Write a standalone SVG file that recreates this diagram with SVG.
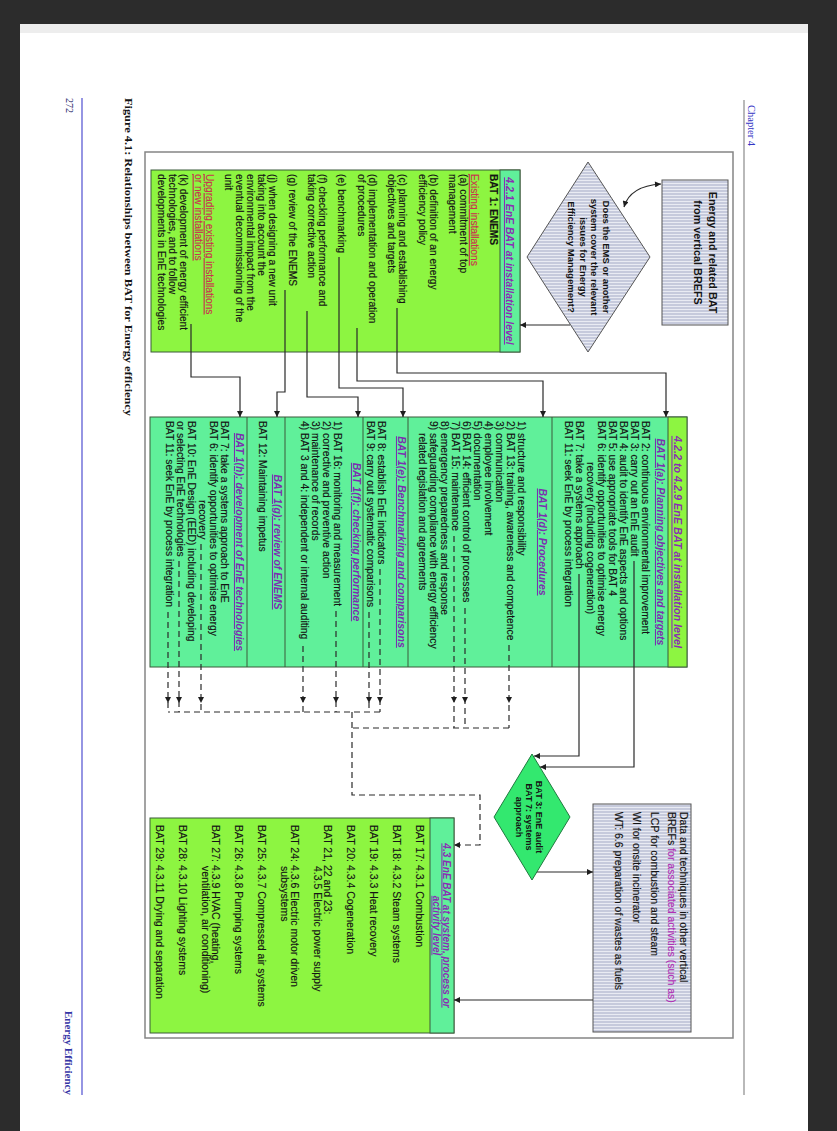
<svg xmlns="http://www.w3.org/2000/svg" width="837" height="1131" viewBox="0 0 837 1131">
<style>
text{font-family:"Liberation Sans",Arial,sans-serif;fill:#141414}
.l{font-size:10.2px;stroke:#141414;stroke-width:0.15}
.b{font-size:10.3px;stroke:#141414;stroke-width:0.15}
.pb{font-size:10.5px;stroke:#141414;stroke-width:0.15}
.hd{font-weight:bold;font-style:italic;fill:#8a2db5;stroke:none;text-decoration:underline}
.st{font-size:10.5px;font-weight:bold;font-style:italic;fill:#7b2fb0;stroke:none;text-decoration:underline}
.red{fill:#c8344e;stroke:#c8344e;text-decoration:underline}
.bx{stroke:#3b5b3b;stroke-width:1}
.lime{fill:#8df541}
.mint{fill:#60f09a}
.div{stroke:#3b5b3b;stroke-width:1;fill:none}
.c{fill:none;stroke:#2a2a2a;stroke-width:1.2}
.d{fill:none;stroke:#2a2a2a;stroke-width:1.2;stroke-dasharray:6 4}
.ft{font-family:"Liberation Serif","Times New Roman",serif}
</style>
<defs>
<pattern id="gs" patternUnits="userSpaceOnUse" width="3" height="6"><rect width="3" height="6" fill="#c6cadc"/><rect width="1" height="6" fill="#e9ebf3"/></pattern>
<marker id="ar" viewBox="0 0 10 10" refX="10" refY="5" markerWidth="7" markerHeight="6" markerUnits="userSpaceOnUse" orient="auto"><path d="M0,0 L10,5 L0,10 z" fill="#1e1e1e"/></marker>
<marker id="as" viewBox="0 0 10 10" refX="10" refY="5" markerWidth="7" markerHeight="6" markerUnits="userSpaceOnUse" orient="auto-start-reverse"><path d="M0,0 L10,5 L0,10 z" fill="#1e1e1e"/></marker>
</defs>
<rect x="0" y="0" width="837" height="1131" fill="#2c2c2c"/>
<rect x="20" y="24" width="788" height="1107" fill="#ffffff"/>
<rect x="20" y="24" width="788" height="9" fill="#ededed"/>

<g transform="matrix(0,1,-1,0,837,0)">
  <g id="page">
    <line x1="100" y1="93" x2="1095" y2="93" stroke="#8a8a8a" stroke-width="1.2"/>
    <text class="ft" x="105" y="89" font-size="10.5" style="fill:#3434c4">Chapter 4</text>
    <line x1="98" y1="755" x2="1095" y2="755" stroke="#4f4fd0" stroke-width="1.2"/>
    <text class="ft" x="98" y="771" font-size="10" style="fill:#2a2a6a">272</text>
    <text class="ft" x="1095" y="772" font-size="11" font-weight="bold" text-anchor="end" style="fill:#3535a5">Energy Efficiency</text>
    <text class="ft" x="98" y="712" font-size="10.5" font-weight="bold" textLength="318" lengthAdjust="spacingAndGlyphs">Figure 4.1: Relationships between BAT for Energy efficiency</text>
    <rect x="152" y="104" width="886" height="588" fill="none" stroke="#858585" stroke-width="1.5"/>
  </g>

  <g id="brefs">
    <rect x="180" y="109" width="145" height="66" fill="url(#gs)" stroke="#555" stroke-width="1"/>
    <text x="252.5" y="128" font-size="10.8" font-weight="bold" text-anchor="middle">Energy and related BAT</text>
    <text x="252.5" y="143" font-size="10.8" font-weight="bold" text-anchor="middle">from vertical BREFS</text>
  </g>

  <g id="ems-question">
    <polygon points="162,249 257,187 352,249 257,310" fill="url(#gs)" stroke="#555" stroke-width="1"/>
    <text x="257" y="234.5" font-size="9.5" font-weight="bold" text-anchor="middle">Does the EMS or another</text>
    <text x="257" y="246" font-size="9.5" font-weight="bold" text-anchor="middle">system cover the relevant</text>
    <text x="257" y="257.5" font-size="9.5" font-weight="bold" text-anchor="middle">issues for Energy</text>
    <text x="257" y="269" font-size="9.5" font-weight="bold" text-anchor="middle">Efficiency Management?</text>
  </g>

  <g id="enems">
    <rect x="170" y="317" width="182" height="369" class="lime bx"/>
    <rect x="170" y="317" width="182" height="20" class="mint bx"/>
    <text class="hd" x="261" y="331" font-size="10.5" text-anchor="middle">4.2.1 EnE BAT at installation level</text>
    <g class="l">
      <text x="174" y="346.7" font-weight="bold">BAT 1: ENEMS</text>
      <text class="red" x="174" y="366.1">Existing installations</text>
      <text x="174" y="377.1">(a) commitment of top</text>
      <text x="174" y="388.1">management</text>
      <text x="174" y="407.5">(b) definition of an energy</text>
      <text x="174" y="418.5">efficiency policy</text>
      <text x="174" y="437.9">(c) planning and establishing</text>
      <text x="174" y="448.9">objectives and targets</text>
      <text x="174" y="468.3">(d) implementation and operation</text>
      <text x="174" y="479.3">of procedures</text>
      <text x="174" y="498.7">(e) benchmarking</text>
      <text x="174" y="518.1">(f) checking performance and</text>
      <text x="174" y="529.1">taking corrective action</text>
      <text x="174" y="548.5">(g) review of the ENEMS</text>
      <text x="174" y="567.9">(j) when designing a new unit</text>
      <text x="174" y="578.9">taking into account the</text>
      <text x="174" y="589.9">environmental impact from the</text>
      <text x="174" y="600.9">eventual decommissioning of the</text>
      <text x="174" y="611.9">unit</text>
      <text class="red" x="174" y="631.3">Upgrading existing installations</text>
      <text class="red" x="174" y="642.3">or new installations</text>
      <text x="174" y="657.5">(k) development of energy efficient</text>
      <text x="174" y="668.5">technologies, and to follow</text>
      <text x="174" y="679.5">developments in EnE technologies</text>
    </g>
  </g>

  <g id="installation-level">
    <rect x="417" y="150" width="250" height="537" class="mint bx"/>
    <rect x="417" y="150" width="250" height="19" class="lime bx"/>
    <path class="div" d="M417,285 H667 M417,429 H667 M417,474 H667 M417,552 H667 M417,590 H667"/>
    <text class="hd" x="542" y="163.5" font-size="10.8" text-anchor="middle">4.2.2 to 4.2.9 EnE BAT at installation level</text>
    <g class="b">
      <text class="st" x="542" y="180" text-anchor="middle">BAT 1(a): Planning objectives and targets</text>
      <text x="421" y="195.5">BAT 2: continuous environmental improvement</text>
      <text x="421" y="206.5">BAT 3: carry out an EnE audit</text>
      <text x="421" y="217.5">BAT 4: audit to identify EnE aspects and options</text>
      <text x="421" y="228.5">BAT 5: use appropriate tools for BAT 4</text>
      <text x="421" y="239.5">BAT 6: identify opportunities to optimise energy</text>
      <text x="462" y="250.5">recovery (including cogeneration)</text>
      <text x="421" y="261.5">BAT 7: take a systems approach</text>
      <text x="421" y="272.5">BAT 11: seek EnE by process integration</text>

      <text class="st" x="542" y="298" text-anchor="middle">BAT 1(d): Procedures</text>
      <text x="421" y="319.5">1) structure and responsibility</text>
      <text x="421" y="330.5">2) BAT 13: training, awareness and competence</text>
      <text x="421" y="341.5">3) communication</text>
      <text x="421" y="352.5">4) employee involvement</text>
      <text x="421" y="363.5">5) documentation</text>
      <text x="421" y="374.5">6) BAT 14: efficient control of processes</text>
      <text x="421" y="385.5">7) BAT 15: maintenance</text>
      <text x="421" y="396.5">8) emergency preparedness and response</text>
      <text x="421" y="407.5">9) safeguarding compliance with energy efficiency</text>
      <text x="433" y="418.5">related legislation and agreements</text>

      <text class="st" x="542" y="439" text-anchor="middle">BAT 1(e): Benchmarking and comparisons</text>
      <text x="421" y="459.5">BAT 8: establish EnE indicators</text>
      <text x="421" y="470.5">BAT 9: carry out systematic comparisons</text>

      <text class="st" x="542" y="484" text-anchor="middle">BAT 1(f): checking performance</text>
      <text x="421" y="503.5">1) BAT 16: monitoring and measurement</text>
      <text x="421" y="514.5">2) corrective and preventive action</text>
      <text x="421" y="525.5">3) maintenance of records</text>
      <text x="421" y="536.5">4) BAT 3 and 4: independent or internal auditing</text>

      <text class="st" x="542" y="563" text-anchor="middle">BAT 1(g): review of ENEMS</text>
      <text x="421" y="578.5">BAT 12: Maintaining impetus</text>

      <text class="st" x="542" y="601" text-anchor="middle">BAT 1(h): development of EnE technologies</text>
      <text x="421" y="616.5">BAT 7: take a systems approach to EnE</text>
      <text x="421" y="627.5">BAT 6: identify opportunities to optimise energy</text>
      <text x="500" y="638.5">recovery</text>
      <text x="421" y="649.5">BAT 10: EnE Design (EED) including developing</text>
      <text x="421" y="660.5">or selecting EnE technologies</text>
      <text x="421" y="671.5">BAT 11: seek EnE by process integration</text>
    </g>
  </g>

  <g id="audit-systems">
    <polygon points="754,305 817,267 880,305 817,343" fill="#33e86f" stroke="#1f7a3f" stroke-width="1"/>
    <text x="817" y="301" font-size="9" font-weight="bold" text-anchor="middle">BAT 3: EnE audit</text>
    <text x="817" y="311" font-size="9" font-weight="bold" text-anchor="middle">BAT 7: systems</text>
    <text x="817" y="321" font-size="9" font-weight="bold" text-anchor="middle">approach</text>
  </g>

  <g id="other-brefs">
    <rect x="804" y="146" width="228" height="98" fill="url(#gs)" stroke="#555" stroke-width="1"/>
    <g class="pb">
      <text x="812" y="156.8">Data and techniques in other vertical</text>
      <text x="812" y="168.8">BREFs <tspan style="fill:#b02fb5;stroke:#b02fb5">for associated activities (such as)</tspan></text>
      <text x="812" y="185.8">LCP for combustion and steam</text>
      <text x="812" y="203.8">WI for onsite incinerator</text>
      <text x="812" y="221.8">WT: 6.6 preparation of wastes as fuels</text>
    </g>
  </g>

  <g id="process-level">
    <rect x="818" y="383" width="215" height="304" class="lime bx"/>
    <rect x="818" y="383" width="215" height="24" class="mint bx"/>
    <text class="hd" x="925.5" y="393.6" font-size="10" text-anchor="middle">4.3 EnE BAT at system, process or</text>
    <text class="hd" x="925.5" y="403.6" font-size="10" text-anchor="middle">activity level</text>
    <g class="pb">
      <text x="825" y="420.6">BAT 17: 4.3.1 Combustion</text>
      <text x="825" y="443.6">BAT 18: 4.3.2 Steam systems</text>
      <text x="825" y="466.6">BAT 19: 4.3.3 Heat recovery</text>
      <text x="825" y="489.6">BAT 20: 4.3.4 Cogeneration</text>
      <text x="825" y="512.6">BAT 21, 22 and 23:</text>
      <text x="866" y="522.6">4.3.5 Electric power supply</text>
      <text x="825" y="545.6">BAT 24: 4.3.6 Electric motor driven</text>
      <text x="866" y="555.6">subsystems</text>
      <text x="825" y="578.6">BAT 25: 4.3.7 Compressed air systems</text>
      <text x="825" y="601.6">BAT 26: 4.3.8 Pumping systems</text>
      <text x="825" y="624.6">BAT 27: 4.3.9 HVAC (heating,</text>
      <text x="866" y="634.6">ventilation, air conditioning)</text>
      <text x="825" y="657.6">BAT 28: 4.3.10 Lighting systems</text>
      <text x="825" y="680.6">BAT 29: 4.3.11 Drying and separation</text>
    </g>
  </g>

  <g id="connectors">
    <path class="c" d="M207,213 Q186,207 184,176" marker-end="url(#ar)" marker-start="url(#as)"/>
    <path class="c" d="M325,267 L325,317" marker-end="url(#ar)"/>
    <path class="c" d="M308,440 L373,440 L373,171 L417,171" marker-end="url(#ar)"/>
    <path class="c" d="M328,480 L381,480 L381,294 L417,294" marker-end="url(#ar)"/>
    <path class="c" d="M257,498 L388,498 L388,434 L417,434" marker-end="url(#ar)"/>
    <path class="c" d="M311,530 L397,530 L397,479 L417,479" marker-end="url(#ar)"/>
    <path class="c" d="M290,552 L392,552 L392,560 L417,560" marker-end="url(#ar)"/>
    <path class="c" d="M324,646 L377,646 L377,597 L417,597" marker-end="url(#ar)"/>
    <path class="c" d="M561,203 L767,203 L767,297" marker-end="url(#ar)"/>
    <path class="c" d="M574,258 L756,258 L756,303" marker-end="url(#ar)"/>
    <path class="c" d="M872,300 L872,244" marker-end="url(#ar)"/>
    <path class="c" d="M1000,244 L1000,383" marker-end="url(#ar)"/>

    <path class="d" d="M645,328 L703,328 L728,328" marker-mid="url(#ar)"/>
    <path class="d" d="M608,372 L703,372 L728,372" marker-mid="url(#ar)"/>
    <path class="d" d="M536,383 L703,383 L728,383" marker-mid="url(#ar)"/>
    <path class="d" d="M569,457 L703,457 L712,457" marker-mid="url(#ar)"/>
    <path class="d" d="M612,468 L703,468 L712,468" marker-mid="url(#ar)"/>
    <path class="d" d="M611,501 L703,501 L712,501" marker-mid="url(#ar)"/>
    <path class="d" d="M646,534 L703,534 L712,534" marker-mid="url(#ar)"/>
    <path class="d" d="M544,636 L703,636 L712,636" marker-mid="url(#ar)"/>
    <path class="d" d="M561,658 L703,658 L712,658" marker-mid="url(#ar)"/>
    <path class="d" d="M612,669 L703,669 L712,669" marker-mid="url(#ar)"/>
    <path class="d" d="M712,457 L712,669"/>
    <path class="d" d="M728,328 L728,485"/>
    <path class="d" d="M712,485 L795,485 L795,357 L845,357 L845,383" marker-end="url(#ar)"/>
  </g>
</g>
</svg>
